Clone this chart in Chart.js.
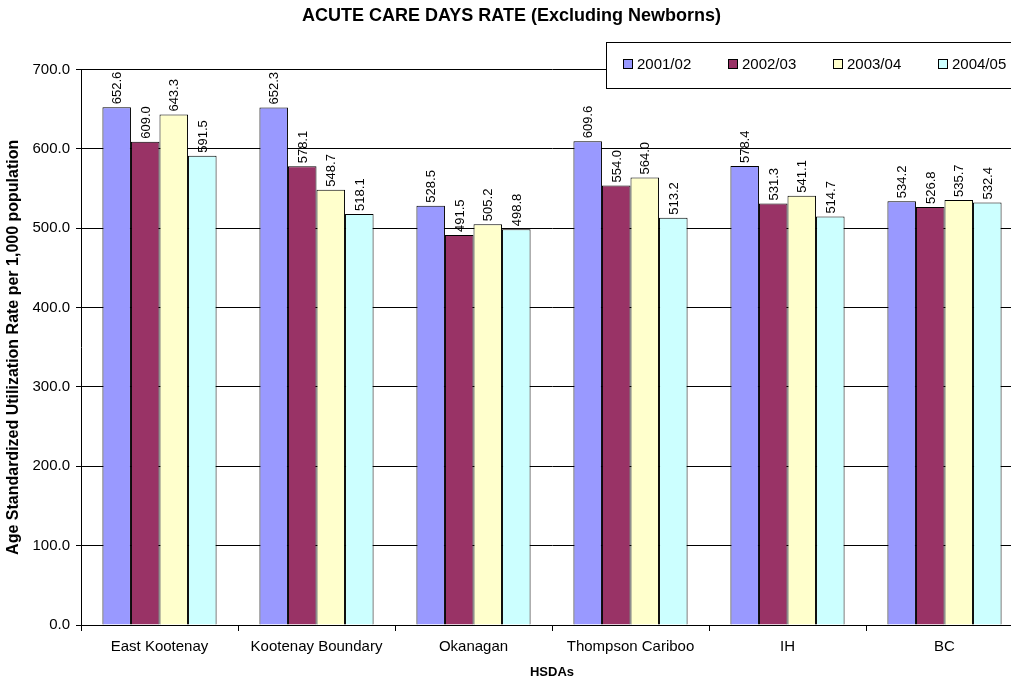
<!DOCTYPE html>
<html>
<head>
<meta charset="utf-8">
<script src="https://cdn.jsdelivr.net/npm/chart.js@4/dist/chart.umd.min.js"></script>
<style>
  html, body { margin: 0; padding: 0; background: #fff; overflow: hidden; }
  #wrap { width: 1026px; height: 681px; position: relative; }
</style>
</head>
<body>
<div id="wrap"><canvas id="c"></canvas></div>
<script>
// Health service delivery areas and yearly acute care day rates
const categories = ['East Kootenay', 'Kootenay Boundary', 'Okanagan', 'Thompson Cariboo', 'IH', 'BC'];
const years = ['2001/02', '2002/03', '2003/04', '2004/05'];
const rate2001 = [652.6, 652.3, 528.5, 609.6, 578.4, 534.2];
const rate2002 = [609.0, 578.1, 491.5, 554.0, 531.3, 526.8];
const rate2003 = [643.3, 548.7, 505.2, 564.0, 541.1, 535.7];
const rate2004 = [591.5, 518.1, 498.8, 513.2, 514.7, 532.4];
const yTicks = [0, 100, 200, 300, 400, 500, 600, 700];

const colors = ['#9999FF', '#993366', '#FFFFCC', '#CCFFFF'];
const FONT = 'Arial, "Liberation Sans", sans-serif';

const seriesValues = [rate2001, rate2002, rate2003, rate2004];
const datasets = years.map((y, i) => ({
  label: y,
  data: seriesValues[i],
  backgroundColor: colors[i],
  borderColor: '#000',
  borderWidth: 1,
  borderSkipped: 'bottom',
  barPercentage: 1.0,
  categoryPercentage: 0.727
}));

// Vertical value labels above each bar
const valueLabels = {
  id: 'valueLabels',
  afterDatasetsDraw(chart) {
    const ctx = chart.ctx;
    ctx.save();
    ctx.fillStyle = '#000';
    ctx.font = '13px ' + FONT;
    ctx.textAlign = 'left';
    ctx.textBaseline = 'middle';
    chart.data.datasets.forEach((ds, di) => {
      chart.getDatasetMeta(di).data.forEach((bar, i) => {
        ctx.save();
        ctx.translate(bar.x + 1, bar.y - 3);
        ctx.rotate(-Math.PI / 2);
        ctx.fillText(ds.data[i].toFixed(1), 0, 0);
        ctx.restore();
      });
    });
    ctx.restore();
  }
};

// Boxed horizontal legend in the upper right
const boxedLegend = {
  id: 'boxedLegend',
  afterDraw(chart) {
    const ctx = chart.ctx;
    ctx.save();
    const bx = 606, by = 42, bw = 416, bh = 46;
    ctx.fillStyle = '#fff';
    ctx.fillRect(bx, by, bw, bh);
    ctx.strokeStyle = '#000';
    ctx.lineWidth = 1;
    ctx.strokeRect(bx + 0.5, by + 0.5, bw, bh);
    ctx.font = '15px ' + FONT;
    ctx.textBaseline = 'middle';
    ctx.textAlign = 'left';
    chart.data.datasets.forEach((ds, i) => {
      const x = 623 + i * 105;
      const y = 64;
      ctx.fillStyle = ds.backgroundColor;
      ctx.fillRect(x, y - 5, 10, 10);
      ctx.strokeStyle = '#000';
      ctx.strokeRect(x + 0.5, y - 4.5, 9, 9);
      ctx.fillStyle = '#000';
      ctx.fillText(ds.label, x + 14, y + 1);
    });
    ctx.restore();
  }
};

new Chart(document.getElementById('c'), {
  type: 'bar',
  data: { labels: categories, datasets },
  plugins: [valueLabels, boxedLegend],
  options: {
    responsive: true,
    maintainAspectRatio: false,
    animation: false,
    layout: { padding: { left: 0, right: 3, top: 0, bottom: 0 } },
    plugins: {
      legend: { display: false },
      tooltip: { enabled: false },
      title: {
        display: true,
        text: 'ACUTE CARE DAYS RATE (Excluding Newborns)',
        color: '#000',
        font: { family: FONT, size: 18, weight: 'bold' },
        padding: { top: 5, bottom: 43 }
      }
    },
    scales: {
      x: {
        offset: true,
        grid: { display: true, drawOnChartArea: false, drawTicks: true, tickLength: 6, offset: true, color: '#000' },
        border: { display: true, color: '#000', width: 1 },
        ticks: { color: '#000', font: { family: FONT, size: 15 }, padding: 7, maxRotation: 0, autoSkip: false },
        title: { display: true, text: 'HSDAs', color: '#000', font: { family: FONT, size: 13, weight: 'bold' }, padding: { top: 2, bottom: 1 } },
        afterFit(scale) { scale.height = 56; }
      },
      y: {
        min: 0,
        max: 700,
        afterBuildTicks(scale) { scale.ticks = yTicks.map(v => ({ value: v })); },
        grid: { color: '#000', drawTicks: true, tickLength: 5, lineWidth: 1 },
        border: { display: true, color: '#000', width: 1 },
        ticks: { color: '#000', font: { family: FONT, size: 15 }, padding: 6, callback: v => Number(v).toFixed(1) },
        title: { display: true, text: 'Age Standardized Utilization Rate per 1,000 population', color: '#000', font: { family: FONT, size: 16, weight: 'bold' }, padding: { top: 4, bottom: 4 } },
        afterFit(scale) { scale.width = 81; }
      }
    }
  }
});
</script>
</body>
</html>
